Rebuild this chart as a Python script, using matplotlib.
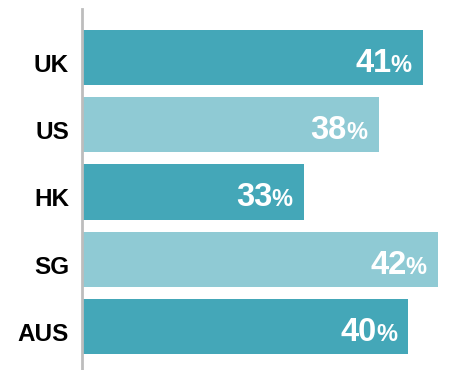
import matplotlib.pyplot as plt

# Share of respondents by market
markets = ['UK', 'US', 'HK', 'SG', 'AUS']
shares = [41, 38, 33, 42, 40]
bar_colors = ['#44a7b8', '#8fcad4', '#44a7b8', '#8fcad4', '#44a7b8']

W, H, DPI = 449, 370, 100
fig = plt.figure(figsize=(W / DPI, H / DPI), dpi=DPI)
plt.rcParams['font.family'] = ['Liberation Sans', 'DejaVu Sans']

# axes spans from the grey baseline to the right edge
ax = fig.add_axes([81.5 / W, 0, 1 - 81.5 / W, (H - 9) / H])
ypos = list(range(len(markets)))
ax.barh(ypos, shares, height=0.82, color=bar_colors, left=0, zorder=1)
ax.set_xlim(18.1, 42.72)
ax.set_ylim(4.647, -0.72)

for side in ['top', 'right', 'bottom']:
    ax.spines[side].set_visible(False)
ax.spines['left'].set_color('#bdbdbd')
ax.spines['left'].set_linewidth(2.0)
ax.spines['left'].set_zorder(3)
ax.set_xticks([])
ax.set_yticks([])

px = 72 / DPI  # points per pixel
renderer = fig.canvas.get_renderer()

for y, name in zip(ypos, markets):
    ax.annotate(name, xy=(0, y), xycoords=('axes fraction', 'data'),
                xytext=(-12.5 * px, -14.3 * px), textcoords='offset points',
                ha='right', va='baseline', fontsize=17.5, fontweight='bold',
                color='black')

for y, v in zip(ypos, shares):
    pct = ax.annotate('%', xy=(v, y), xytext=(-11.5 * px, -14.3 * px),
                      textcoords='offset points', ha='right', va='baseline',
                      fontsize=17, fontweight='bold', color='white', zorder=4)
    w = pct.get_window_extent(renderer).width * px
    ax.annotate(str(v), xy=(v, y), xytext=(-11.5 * px - w + 0.4, -14.3 * px),
                textcoords='offset points', ha='right', va='baseline',
                fontsize=23.5, fontweight='bold', color='white', zorder=4)

fig.savefig('out.png', dpi=DPI)
